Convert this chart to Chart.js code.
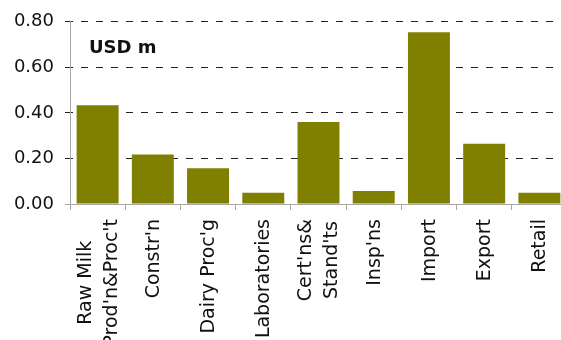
<!DOCTYPE html>
<html>
<head>
<meta charset="utf-8">
<script src="https://cdn.jsdelivr.net/npm/chart.js@4"></script>
<style>
  html, body { margin: 0; padding: 0; background: #fff; overflow: hidden; }
  #wrap { width: 575px; height: 340px; }
</style>
</head>
<body>
<div id="wrap"><canvas id="budgetChart" width="575" height="340"></canvas></div>
<script>
const categories = [
  ["Raw Milk", "Prod'n&Proc't"],
  "Constr'n",
  "Dairy Proc'g",
  "Laboratories",
  ["Cert'ns&", "Stand'ts"],
  "Insp'ns",
  "Import",
  "Export",
  "Retail",
];
const amounts = [0.434, 0.217, 0.157, 0.049, 0.36, 0.057, 0.754, 0.265, 0.049];
const yTicks = [0, 0.2, 0.4, 0.6, 0.8];
const unitLabel = "USD m";

const ctx = document.getElementById("budgetChart");
const FONT = "'DejaVu Sans', Verdana, sans-serif";

// draws the unit caption and the rotated category labels
const labelsPlugin = {
  id: "labelsPlugin",
  afterDraw: (chart) => {
    const c = chart.ctx;
    const area = chart.chartArea;
    c.save();
    c.fillStyle = "#111";
    c.font = "bold 18px " + FONT;
    c.textAlign = "left";
    c.textBaseline = "alphabetic";
    c.fillText(unitLabel, area.left + 19, area.top + 31);

    const xScale = chart.scales.x;
    c.font = "19px " + FONT;
    c.textAlign = "center";
    c.textBaseline = "middle";
    const lineHeight = 26;
    categories.forEach((label, i) => {
      const lines = Array.isArray(label) ? label : [label];
      const w = Math.max(...lines.map((l) => c.measureText(l).width));
      const x = xScale.getPixelForTick(i);
      c.save();
      c.translate(x, area.bottom + 15);
      c.rotate(-Math.PI / 2);
      lines.forEach((line, j) => {
        const off = (j - (lines.length - 1) / 2) * lineHeight + 1;
        c.fillText(line, -w / 2, off);
      });
      c.restore();
    });
    c.restore();
  },
};

new Chart(ctx, {
  type: "bar",
  data: {
    labels: categories,
    datasets: [
      {
        data: amounts,
        backgroundColor: "#808000",
        borderWidth: 0,
        barPercentage: 0.76,
        categoryPercentage: 1,
      },
    ],
  },
  options: {
    responsive: false,
    animation: false,
    layout: {
      autoPadding: false,
      padding: { top: 19, right: 8, left: 0, bottom: 0 },
    },
    scales: {
      x: {
        afterFit: (scale) => {
          scale.height = 136;
        },
        border: { display: true, color: "#a6a6a6", width: 1 },
        grid: {
          display: true,
          drawOnChartArea: false,
          offset: true,
          tickLength: 6,
          tickColor: "#a6a6a6",
        },
        ticks: { display: false },
      },
      y: {
        min: 0,
        max: 0.8,
        afterFit: (scale) => {
          scale.width = 70;
        },
        afterBuildTicks: (scale) => {
          scale.ticks = yTicks.map((v) => ({ value: v }));
        },
        border: {
          display: true,
          color: "#a6a6a6",
          width: 1,
          dash: (c) => (c.tick && c.tick.value === 0 ? [] : [7, 8]),
          dashOffset: 5,
        },
        grid: {
          color: (c) => (c.tick && c.tick.value === 0 ? "rgba(0,0,0,0)" : "#222"),
          tickColor: (c) => (c.tick && c.tick.value === 0 ? "#a6a6a6" : "#222"),
          tickLength: 5,
          lineWidth: 1,
        },
        ticks: {
          padding: 11,
          color: "#111",
          font: { family: FONT, size: 18 },
          callback: (v) => Number(v).toFixed(2),
        },
      },
    },
    plugins: {
      legend: { display: false },
      tooltip: { enabled: false },
    },
  },
  plugins: [labelsPlugin],
});
</script>
</body>
</html>
